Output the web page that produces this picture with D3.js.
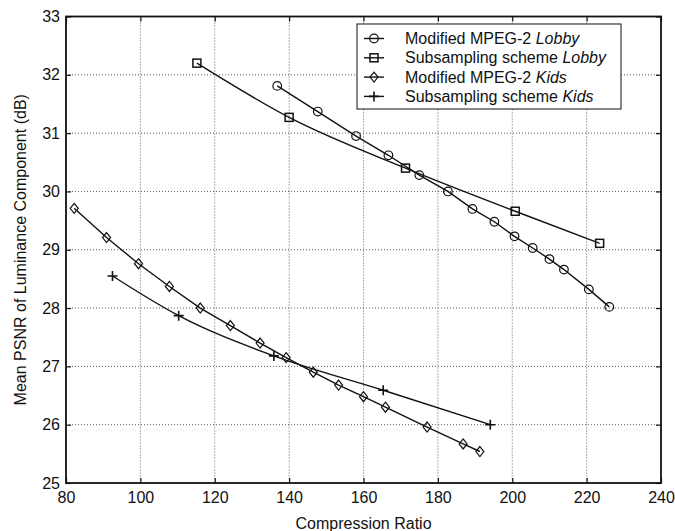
<!DOCTYPE html>
<html><head><meta charset="utf-8">
<script src="https://cdn.jsdelivr.net/npm/d3@7"></script>
<style>body{margin:0;background:#fff}svg{display:block}</style>
</head><body>
<svg id="c" width="675" height="531"></svg>
<script>
const lobbyMpegX = [136.8,147.7,158.0,166.7,175.0,182.7,189.3,195.2,200.6,205.5,210.0,213.9,220.6,226.1];
const lobbyMpegY = [31.81,31.37,30.95,30.62,30.28,30.00,29.70,29.48,29.23,29.03,28.84,28.66,28.32,28.02];
const lobbySubX = [115.2,140.0,171.3,200.8,223.5];
const lobbySubY = [32.20,31.27,30.40,29.66,29.11];
const kidsMpegX = [82.2,90.9,99.5,107.8,116.1,124.2,132.2,139.2,146.5,153.3,160.0,165.9,177.1,186.8,191.3];
const kidsMpegY = [29.71,29.21,28.76,28.37,28.00,27.70,27.40,27.15,26.90,26.68,26.48,26.30,25.96,25.67,25.54];
const kidsSubX = [92.5,110.3,135.9,165.3,194.1];
const kidsSubY = [28.55,27.87,27.18,26.59,26.00];
const xTicks = [80,100,120,140,160,180,200,220,240];
const yTicks = [25,26,27,28,29,30,31,32,33];
const seriesNames = ["Modified MPEG-2 ", "Subsampling scheme ", "Modified MPEG-2 ", "Subsampling scheme "];
const seriesTags = ["Lobby","Lobby","Kids","Kids"];
const xLabel = "Compression Ratio";
const yLabel = "Mean PSNR of Luminance Component (dB)";

const W=675,H=531, L=66, R=661, T=16.5, B=483;
const svg=d3.select("#c");
const font="Liberation Sans, Arial, Helvetica, sans-serif";
const FS=16;
const x=d3.scaleLinear().domain([80,240]).range([L,R]);
const y=d3.scaleLinear().domain([25,33]).range([B,T]);
const ink="#111";

// grid
const g=svg.append("g");
g.selectAll(".vx").data(xTicks.slice(1,-1)).join("line")
 .attr("x1",d=>x(d)).attr("x2",d=>x(d)).attr("y1",T).attr("y2",B)
 .attr("stroke","#333").attr("stroke-width",0.8).attr("stroke-dasharray","1,2");
g.selectAll(".hy").data(yTicks.slice(1,-1)).join("line")
 .attr("y1",d=>y(d)).attr("y2",d=>y(d)).attr("x1",L).attr("x2",R)
 .attr("stroke","#333").attr("stroke-width",0.8).attr("stroke-dasharray","1,2");

// axes
const ax=d3.axisBottom(x).tickValues(xTicks).tickSize(-5).tickPadding(9).tickFormat(d3.format("d"));
const ay=d3.axisLeft(y).tickValues(yTicks).tickSize(-5).tickPadding(6).tickFormat(d3.format("d"));
const axT=d3.axisTop(x).tickValues(xTicks).tickSize(-5).tickFormat("");
const ayR=d3.axisRight(y).tickValues(yTicks).tickSize(-5).tickFormat("");
function style(sel){sel.selectAll("path").attr("stroke",ink).attr("stroke-width",1.6);
 sel.selectAll("line").attr("stroke",ink).attr("stroke-width",1.2);
 sel.selectAll("text").attr("fill",ink).attr("font-family",font).attr("font-size",FS);}
svg.append("g").attr("transform",`translate(0,${B})`).call(ax).call(style);
svg.append("g").attr("transform",`translate(${L},0)`).call(ay).call(style);
svg.append("g").attr("transform",`translate(0,${T})`).call(axT).call(style);
svg.append("g").attr("transform",`translate(${R},0)`).call(ayR).call(style);
svg.selectAll(".domain").attr("d",null);
svg.append("rect").attr("x",L).attr("y",T).attr("width",R-L).attr("height",B-T)
 .attr("fill","none").attr("stroke",ink).attr("stroke-width",1.8);
svg.append("text").attr("x",(L+R)/2).attr("y",529).attr("text-anchor","middle")
 .attr("font-family",font).attr("font-size",FS).attr("fill",ink).text(xLabel);
svg.append("text").attr("transform",`translate(26,${(T+B)/2}) rotate(-90)`).attr("text-anchor","middle")
 .attr("font-family",font).attr("font-size",FS).attr("fill",ink).text(yLabel);

// markers
function marker(sel,type,cx,cy){
 if(type===0) sel.append("circle").attr("cx",cx).attr("cy",cy).attr("r",4.3).attr("fill","none").attr("stroke",ink).attr("stroke-width",1.2);
 else if(type===1) sel.append("rect").attr("x",cx-4).attr("y",cy-4).attr("width",8).attr("height",8).attr("fill","none").attr("stroke",ink).attr("stroke-width",1.5);
 else if(type===2) sel.append("path").attr("d",`M${cx},${cy-5}L${cx+4},${cy}L${cx},${cy+5}L${cx-4},${cy}Z`).attr("fill","none").attr("stroke",ink).attr("stroke-width",1.2);
 else sel.append("path").attr("d",`M${cx-5},${cy}H${cx+5}M${cx},${cy-5}V${cy+5}`).attr("fill","none").attr("stroke",ink).attr("stroke-width",1.6);
}
const series=[[lobbyMpegX,lobbyMpegY,0,d3.curveLinear],[lobbySubX,lobbySubY,1,d3.curveMonotoneX],
 [kidsMpegX,kidsMpegY,2,d3.curveLinear],[kidsSubX,kidsSubY,3,d3.curveMonotoneX]];
const plot=svg.append("g");
series.forEach(([xs,ys,t,cv])=>{
 const pts=xs.map((v,i)=>[v,ys[i]]);
 plot.append("path").attr("d",d3.line().x(d=>x(d[0])).y(d=>y(d[1])).curve(cv)(pts))
  .attr("fill","none").attr("stroke",ink).attr("stroke-width",1.4);
 pts.forEach(p=>marker(plot,t,x(p[0]),y(p[1])));
});

// legend
const lg=svg.append("g");
lg.append("rect").attr("x",357).attr("y",24).attr("width",264).attr("height",85)
 .attr("fill","#fff").attr("stroke",ink).attr("stroke-width",1);
seriesNames.forEach((n,i)=>{
 const yy=38.5+i*19.3;
 lg.append("line").attr("x1",364).attr("x2",384).attr("y1",yy).attr("y2",yy).attr("stroke",ink).attr("stroke-width",1.4);
 marker(lg,i,374,yy);
 const t=lg.append("text").attr("x",405).attr("y",yy+5.5).attr("font-family",font).attr("font-size",FS).attr("fill",ink);
 t.append("tspan").text(n);
 t.append("tspan").attr("font-style","italic").text(seriesTags[i]);
});
</script>
</body></html>
